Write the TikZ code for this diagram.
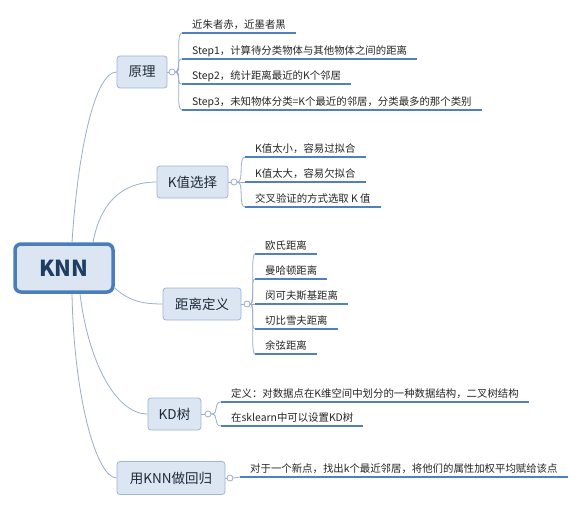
\documentclass[tikz,border=0pt]{standalone}
\usepackage{fontspec}
\setmainfont{Noto Sans CJK SC}
\usetikzlibrary{backgrounds}
\definecolor{boxfill}{HTML}{DCE6F2}
\definecolor{boxline}{HTML}{9DB5D6}
\definecolor{rootline}{HTML}{4A7EBB}
\definecolor{twigline}{HTML}{9AAECB}
\definecolor{ulinecol}{HTML}{4F81BD}
\definecolor{roottext}{HTML}{1F3E63}
\definecolor{boxtext}{HTML}{1E2A3A}
\definecolor{leaftext}{HTML}{262626}
\begin{document}
\begin{tikzpicture}[x=1pt,y=-1pt]
    \tikzstyle{root}=[draw=rootline,line width=3.5pt,fill=boxfill,rounded corners=6pt,minimum width=98pt,minimum height=48pt,font=\fontsize{22}{24}\selectfont\bfseries,text=roottext]
    \tikzstyle{box}=[draw=boxline,line width=0.8pt,fill=boxfill,rounded corners=3pt,minimum height=32pt,inner sep=0pt,font=\fontsize{13.5}{15}\selectfont,text=boxtext]
    \tikzstyle{dot}=[circle,draw=twigline,line width=0.8pt,fill=white,inner sep=0pt,minimum size=6pt]
    \tikzstyle{leaf}=[anchor=south west,inner xsep=10pt,inner ysep=4pt,text depth=0pt,font=\fontsize{10.4}{12}\selectfont,text=leaftext]
    \tikzstyle{uline}=[draw=ulinecol,line width=2pt]
    \tikzstyle{twig}=[draw=twigline,line width=0.8pt]
    \useasboundingbox (0,0) rectangle (586,508);
    \draw (64,268) node[root] (0) {KNN};
    \draw (142,72) node[box,minimum width=50pt] (1) {原理};
    \draw (192.5,182) node[box,minimum width=71pt] (2) {K值选择};
    \draw (202,304) node[box,minimum width=78pt] (3) {距离定义};
    \draw (174.5,414) node[box,minimum width=53pt] (4) {KD树};
    \draw (171,478) node[box,minimum width=108pt,minimum height=33pt] (5) {用KNN做回归};
    \begin{pgfonlayer}{background}
    \fill[white] (0,0) rectangle (586,508);
    \draw[twig] ([xshift=8pt]0.north) .. controls (78,150) and (95,72) .. (1.west);
    \draw[twig] ([xshift=29pt]0.north) .. controls (100,205) and (120,182) .. (2.west);
    \draw[twig] ([yshift=-20pt]0.east) .. controls (128,300) and (140,304) .. (3.west);
    \draw[twig] ([xshift=16pt]0.south) .. controls (88,360) and (115,414) .. (4.west);
    \draw[twig] ([xshift=8pt]0.south) .. controls (74,400) and (97,478) .. (5.west);
    \end{pgfonlayer}
    %%%%%
    \draw (172,72) node[dot] (d1) {};
    \draw (234,182) node[dot] (d2) {};
    \draw (247,304) node[dot] (d3) {};
    \draw (208,414) node[dot] (d4) {};
    \draw (230,478) node[dot] (d5) {};
    \draw[twig] (1.east) -- (d1);
    \draw[twig] (2.east) -- (d2);
    \draw[twig] (3.east) -- (d3);
    \draw[twig] (4.east) -- (d4);
    \draw[twig] (5.east) -- (d5);
    %%%%%
    \draw (182,33) node[leaf] (11) {近朱者赤，近墨者黑};
    \draw (182,59) node[leaf] (12) {Step1，计算待分类物体与其他物体之间的距离};
    \draw (182,84) node[leaf] (13) {Step2，统计距离最近的K个邻居};
    \draw (182,110) node[leaf] (14) {Step3，未知物体分类=K个最近的邻居，分类最多的那个类别};
    \draw (245,157) node[leaf] (21) {K值太小，容易过拟合};
    \draw (245,182) node[leaf] (22) {K值太大，容易欠拟合};
    \draw (245,207) node[leaf] (23) {交叉验证的方式选取 K 值};
    \draw (255,254) node[leaf] (31) {欧氏距离};
    \draw (255,279) node[leaf] (32) {曼哈顿距离};
    \draw (255,304) node[leaf] (33) {闵可夫斯基距离};
    \draw (255,329) node[leaf] (34) {切比雪夫距离};
    \draw (255,354) node[leaf] (35) {余弦距离};
    \draw (221,402) node[leaf] (41) {定义：对数据点在K维空间中划分的一种数据结构，二叉树结构};
    \draw (221,426) node[leaf] (42) {在sklearn中可以设置KD树};
    \draw (240,477) node[leaf] (51) {对于一个新点，找出k个最近邻居，将他们的属性加权平均赋给该点};
    %%%%%
    \draw[twig] (d1.east) .. controls +(7,0) and +(-7,0) .. (11.south west);
    \draw[twig] (d1.east) .. controls +(7,0) and +(-7,0) .. (12.south west);
    \draw[twig] (d1.east) .. controls +(7,0) and +(-7,0) .. (13.south west);
    \draw[twig] (d1.east) .. controls +(7,0) and +(-7,0) .. (14.south west);
    \draw[twig] (d2.east) .. controls +(7,0) and +(-7,0) .. (21.south west);
    \draw[twig] (d2.east) -- (22.south west);
    \draw[twig] (d2.east) .. controls +(7,0) and +(-7,0) .. (23.south west);
    \draw[twig] (d3.east) .. controls +(5,0) and +(-5,0) .. (31.south west);
    \draw[twig] (d3.east) .. controls +(5,0) and +(-5,0) .. (32.south west);
    \draw[twig] (d3.east) -- (33.south west);
    \draw[twig] (d3.east) .. controls +(5,0) and +(-5,0) .. (34.south west);
    \draw[twig] (d3.east) .. controls +(5,0) and +(-5,0) .. (35.south west);
    \draw[twig] (d4.east) .. controls +(8,0) and +(-8,0) .. (41.south west);
    \draw[twig] (d4.east) .. controls +(8,0) and +(-8,0) .. (42.south west);
    \draw[twig] (d5.east) -- (51.south west);
    %%%%%
    \draw[uline] (11.south west) -- (11.south east);
    \draw[uline] (12.south west) -- (12.south east);
    \draw[uline] (13.south west) -- (13.south east);
    \draw[uline] (14.south west) -- (14.south east);
    \draw[uline] (21.south west) -- (21.south east);
    \draw[uline] (22.south west) -- (22.south east);
    \draw[uline] (23.south west) -- (23.south east);
    \draw[uline] (31.south west) -- (31.south east);
    \draw[uline] (32.south west) -- (32.south east);
    \draw[uline] (33.south west) -- (33.south east);
    \draw[uline] (34.south west) -- (34.south east);
    \draw[uline] (35.south west) -- (35.south east);
    \draw[uline] (41.south west) -- (41.south east);
    \draw[uline] (42.south west) -- (42.south east);
    \draw[uline] (51.south west) -- (51.south east);
\end{tikzpicture}
\end{document}
